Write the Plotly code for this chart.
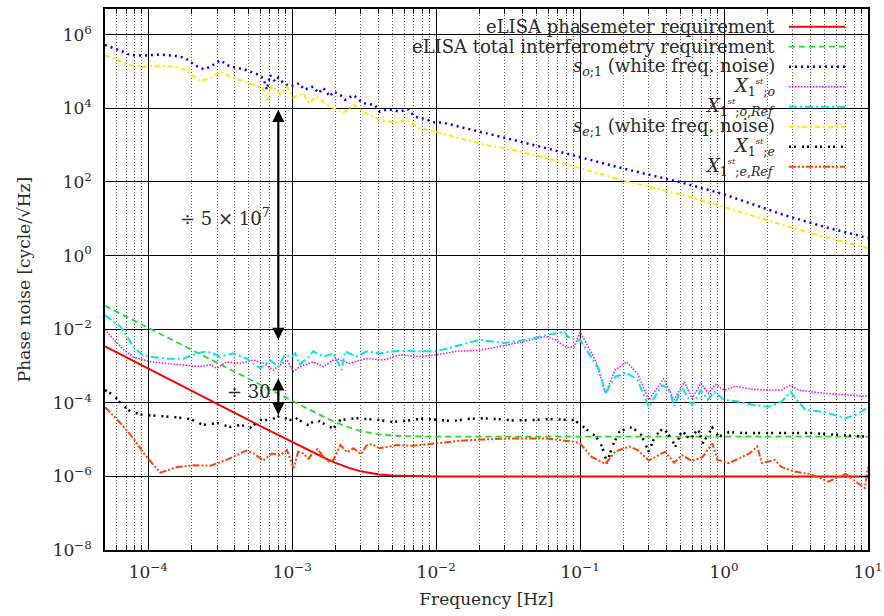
import math
import plotly.graph_objects as go

# ---------------- data ----------------
red_f = [5e-5, 7e-5, 1e-4, 1.5e-4, 2e-4, 3e-4, 5e-4, 7e-4, 1e-3, 1.2e-3, 1.5e-3, 1.75e-3, 2e-3,
         2.5e-3, 3e-3, 3.5e-3, 4e-3, 5e-3, 6e-3, 7e-3, 1e-2, 1e-1, 1, 10]
red_v = [3.4e-3, 1.72e-3, 8.4e-4, 3.74e-4, 2.1e-4, 9.35e-5, 3.36e-5, 1.72e-5, 8.5e-6, 5.93e-6, 3.9e-6,
         2.92e-6, 2.33e-6, 1.68e-6, 1.37e-6, 1.21e-6, 1.13e-6, 1.05e-6, 1.027e-6, 1.015e-6, 1.0e-6,
         1e-6, 1e-6, 1e-6]

green_f = [5e-5, 7e-5, 1e-4, 1.5e-4, 2e-4, 3e-4, 5e-4, 7e-4, 1e-3, 1.2e-3, 1.5e-3, 1.75e-3, 2e-3,
           2.5e-3, 3e-3, 3.5e-3, 4e-3, 5e-3, 6e-3, 7e-3, 1e-2, 1e-1, 1, 10]
green_v = [4.3e-2, 2.2e-2, 1.08e-2, 4.8e-3, 2.7e-3, 1.2e-3, 4.32e-4, 2.21e-4, 1.09e-4, 7.6e-5, 4.95e-5,
           3.72e-5, 2.95e-5, 2.1e-5, 1.7e-5, 1.49e-5, 1.38e-5, 1.28e-5, 1.24e-5, 1.22e-5, 1.2e-5,
           1.2e-5, 1.2e-5, 1.2e-5]

so_f = [5e-5, 5.6e-5, 6.25e-5, 6.8e-5, 7.45e-5, 9.1e-5, 1.21e-4, 1.63e-4, 1.81e-4, 2.12e-4, 2.42e-4,
        2.7e-4, 3.16e-4, 3.7e-4, 4.6e-4, 5.68e-4, 6.3e-4, 6.67e-4, 7.0e-4, 7.6e-4, 8.0e-4, 8.7e-4,
        9.7e-4, 1.12e-3, 1.21e-3, 1.4e-3, 1.52e-3, 1.64e-3, 1.83e-3, 1.93e-3, 2.16e-3, 2.33e-3,
        2.66e-3, 3.1e-3, 3.75e-3, 4.05e-3, 4.65e-3, 5.6e-3, 6.35e-3, 7.1e-3, 8.55e-3, 9.8e-3,
        1.11e-2, 1.38e-2, 2.0e-2, 3.4e-2, 5.8e-2, 0.11, 0.2, 0.49, 1.0, 2.55, 5.0, 10]
so_v = [5.3e5, 4.5e5, 3.9e5, 3.35e5, 2.8e5, 2.7e5, 2.9e5, 2.6e5, 2.3e5, 1.45e5, 1.16e5,
        1.35e5, 2.03e5, 1.35e5, 1.16e5, 8.5e4, 6.6e4, 3.2e4, 8.1e4, 5.3e4, 6.8e4, 4.8e4,
        3.9e4, 4.8e4, 3.2e4, 3.9e4, 2.6e4, 3.6e4, 2.1e4, 2.85e4, 2.3e4, 1.7e4,
        2.3e4, 1.38e4, 1.24e4, 8.1e3, 9.5e3, 8.1e3, 9.5e3, 5.9e3, 5.0e3, 4.1e3,
        4.1e3, 3.3e3, 2.3e3, 1.4e3, 830, 420, 230, 100, 46, 13, 6.0, 3.0]

se_f = [5e-5, 5.8e-5, 6.4e-5, 7.3e-5, 9.1e-5, 1.21e-4, 1.63e-4, 1.8e-4, 2.0e-4, 2.3e-4, 2.7e-4,
        3.16e-4, 3.9e-4, 4.6e-4, 5.4e-4, 6.3e-4, 6.67e-4, 7.2e-4, 8.2e-4, 9.2e-4, 1.02e-3, 1.19e-3,
        1.3e-3, 1.48e-3, 1.74e-3, 1.95e-3, 2.25e-3, 2.66e-3, 3.1e-3, 4.05e-3, 5.3e-3, 6.2e-3,
        7.6e-3, 1.0e-2, 1.38e-2, 2.0e-2, 3.4e-2, 5.8e-2, 0.11, 0.22, 0.5, 1.0, 2.55, 5.0, 10]
se_v = [2.7e5, 2.3e5, 1.85e5, 1.5e5, 1.35e5, 1.45e5, 1.3e5, 1.1e5, 8.1e4, 5.5e4, 6.6e4,
        1.0e5, 6.6e4, 5.5e4, 4.4e4, 3.5e4, 1.6e4, 4.2e4, 2.4e4, 3.9e4, 1.95e4, 2.6e4,
        1.38e4, 2.1e4, 1.24e4, 1.0e4, 7.4e3, 1.24e4, 8.1e3, 4.8e3, 4.1e3, 5.0e3,
        2.9e3, 2.3e3, 1.6e3, 1.1e3, 740, 450, 210, 100, 46, 21, 6.8, 3.2, 1.6]

xo_f = [5e-5, 5.77e-5, 6.8e-5, 7.9e-5, 1.04e-4, 1.35e-4, 1.76e-4, 2.3e-4, 2.7e-4, 3.0e-4, 3.5e-4,
        4.36e-4, 5.4e-4, 6.3e-4, 7.4e-4, 8.2e-4, 9.2e-4, 1.02e-3, 1.13e-3, 1.4e-3, 1.65e-3, 2.0e-3,
        2.5e-3, 3.3e-3, 4.3e-3, 5.6e-3, 7.6e-3, 1.0e-2, 1.38e-2, 2.0e-2, 3.0e-2, 4.5e-2, 5.8e-2,
        6.8e-2, 8.0e-2, 9.1e-2, 0.1, 0.11, 0.129, 0.15, 0.175, 0.21, 0.25, 0.30, 0.38, 0.45,
        0.53, 0.60, 0.69, 0.78, 0.87, 1.0, 1.2, 1.6, 2.5, 2.9, 3.3, 5.0, 9.8]
xo_v = [1.0e-2, 5.1e-3, 2.7e-3, 1.73e-3, 1.3e-3, 1.18e-3, 1.07e-3, 9.6e-4, 1.07e-3, 8.7e-4, 1.3e-3,
        1.18e-3, 1.45e-3, 1.18e-3, 7.8e-4, 1.07e-3, 1.45e-3, 7.1e-4, 9.6e-4, 1.3e-3, 9.6e-4, 1.6e-3,
        1.18e-3, 1.6e-3, 1.45e-3, 2.0e-3, 1.8e-3, 2.0e-3, 2.5e-3, 2.7e-3, 3.6e-3, 5.1e-3, 6.3e-3,
        5.1e-3, 3.2e-3, 3.3e-3, 8.3e-3, 4.2e-3, 1.3e-3, 1.8e-4, 7.8e-4, 1.28e-3, 6.3e-4, 1.2e-4,
        4.5e-4, 1.2e-4, 3.7e-4, 1.3e-4, 3.4e-4, 1.8e-4, 3.2e-4, 2.2e-4, 2.8e-4, 2.3e-4, 2.2e-4,
        3.0e-4, 2.2e-4, 1.8e-4, 1.5e-4]

xoref_f = [5e-5, 5.77e-5, 6.4e-5, 7.1e-5, 7.9e-5, 9.1e-5, 1.09e-4, 1.35e-4, 1.76e-4, 2.18e-4, 2.56e-4,
           3.16e-4, 3.9e-4, 4.8e-4, 6.0e-4, 7.0e-4, 8.0e-4, 8.9e-4, 9.9e-4, 1.05e-3, 1.12e-3,
           1.27e-3, 1.4e-3, 1.65e-3, 1.93e-3, 2.2e-3, 2.33e-3, 2.8e-3, 3.3e-3, 4.05e-3, 5.0e-3,
           6.2e-3, 7.6e-3, 1.0e-2, 1.3e-2, 2.0e-2, 3.0e-2, 4.2e-2, 5.8e-2, 6.8e-2, 7.8e-2, 8.2e-2,
           9.4e-2, 0.1, 0.12, 0.136, 0.15, 0.175, 0.21, 0.25, 0.30, 0.37, 0.41, 0.45, 0.51, 0.60,
           0.69, 0.77, 0.85, 1.0, 1.27, 1.6, 2.05, 2.5, 2.9, 3.2, 3.7, 4.8, 7.0, 8.2, 9.8]
xoref_v = [2.4e-2, 1.6e-2, 1.17e-2, 6.3e-3, 3.3e-3, 2.0e-3, 1.73e-3, 1.58e-3, 1.58e-3, 2.2e-3, 2.5e-3,
           1.8e-3, 2.2e-3, 1.6e-3, 8.7e-4, 1.45e-3, 9.6e-4, 2.0e-3, 1.8e-3, 2.2e-3, 1.1e-3,
           1.6e-3, 2.5e-3, 1.8e-3, 2.2e-3, 7.8e-4, 2.5e-3, 1.8e-3, 2.5e-3, 2.2e-3, 2.5e-3,
           2.6e-3, 2.5e-3, 2.5e-3, 3.3e-3, 5.1e-3, 4.2e-3, 5.1e-3, 6.9e-3, 7.9e-3, 8.5e-3, 6.3e-3,
           4.9e-3, 5.1e-3, 1.6e-3, 7.8e-4, 1.8e-4, 5.1e-4, 6.6e-4, 4.2e-4, 7.8e-5, 3.0e-4, 2.5e-4,
           8.2e-5, 2.6e-4, 8.7e-5, 2.2e-4, 1.2e-4, 2.0e-4, 1.2e-4, 1.07e-4, 8.7e-5, 7.8e-5,
           1.07e-4, 2.0e-4, 1.2e-4, 6.3e-5, 5.8e-5, 3.8e-5, 4.7e-5, 7.1e-5]

xe_f = [5e-5, 5.77e-5, 6.4e-5, 7.5e-5, 9.1e-5, 1.15e-4, 1.5e-4, 1.96e-4, 2.4e-4, 3.0e-4, 3.7e-4,
        4.36e-4, 5.1e-4, 6.0e-4, 7.0e-4, 8.2e-4, 9.7e-4, 1.02e-3, 1.27e-3, 1.48e-3, 1.93e-3,
        2.16e-3, 2.8e-3, 4.05e-3, 5e-3, 6.9e-3, 8e-3, 1.05e-2, 1.3e-2, 1.6e-2, 2e-2, 2.7e-2,
        3.5e-2, 4.7e-2, 6e-2, 8.9e-2, 0.094, 0.104, 0.129, 0.142, 0.154, 0.167, 0.187, 0.22,
        0.26, 0.30, 0.33, 0.38, 0.435, 0.46, 0.51, 0.58, 0.66, 0.71, 0.83, 0.92, 1.08, 1.41,
        2.4, 4.1, 7.0, 9.7]
xe_v = [2.2e-4, 1.6e-4, 9.8e-5, 5.8e-5, 4.7e-5, 4.4e-5, 4.1e-5, 3.6e-5, 2.5e-5, 2.8e-5, 2.2e-5,
        2.5e-5, 2.1e-5, 3.4e-5, 3.4e-5, 4.4e-5, 3.4e-5, 4.2e-5, 2.5e-5, 3.4e-5, 2.0e-5,
        3.4e-5, 3.8e-5, 3.4e-5, 3.0e-5, 3.4e-5, 3.7e-5, 3.4e-5, 3.2e-5, 3.6e-5, 3.8e-5, 3.6e-5,
        3.3e-5, 3.4e-5, 3.6e-5, 3.4e-5, 3.1e-5, 2.3e-5, 1.2e-5, 6.5e-6, 2.3e-6, 6.5e-6, 1.6e-5,
        2.2e-5, 1.6e-5, 4.7e-6, 1.2e-5, 2.1e-5, 9.8e-6, 6.5e-6, 1.8e-5, 9.8e-6, 2.0e-5, 7.9e-6,
        2.1e-5, 1.2e-5, 1.6e-5, 1.5e-5, 1.5e-5, 1.5e-5, 1.3e-5, 1.2e-5]

xeref_f = [5e-5, 5.2e-5, 6.4e-5, 7.9e-5, 9.3e-5, 1.06e-4, 1.21e-4, 1.59e-4, 2.07e-4, 2.7e-4, 3.5e-4,
           4.8e-4, 5.4e-4, 6.3e-4, 7.2e-4, 8.2e-4, 9.2e-4, 1.02e-3, 1.1e-3, 1.19e-3, 1.3e-3,
           1.4e-3, 1.5e-3, 1.65e-3, 1.8e-3, 1.93e-3, 2.16e-3, 2.4e-3, 2.66e-3, 3.0e-3, 3.3e-3,
           3.6e-3, 4.05e-3, 5.3e-3, 6.9e-3, 1.0e-2, 1.46e-2, 2.0e-2, 3.4e-2, 5.8e-2, 8.9e-2, 0.1,
           0.12, 0.15, 0.175, 0.22, 0.25, 0.30, 0.39, 0.45, 0.51, 0.60, 0.71, 0.83, 0.90, 1.08,
           1.33, 1.5, 1.7, 1.83, 2.26, 2.5, 3.0, 4.1, 5.3, 7.0, 8.2, 9.5, 10]
xeref_v = [7.5e-5, 6.6e-5, 2.8e-5, 1.07e-5, 4.2e-6, 2.3e-6, 1.26e-6, 1.8e-6, 2.0e-6, 1.95e-6, 2.8e-6,
           5.0e-6, 4.2e-6, 2.7e-6, 4.2e-6, 3.8e-6, 5.2e-6, 1.66e-6, 4.7e-6, 4.2e-6, 3.0e-6,
           4.7e-6, 5.5e-6, 3.4e-6, 2.5e-6, 2.8e-6, 7.1e-6, 4.5e-6, 5.8e-6, 4.0e-6, 7.1e-6,
           7.5e-6, 5.8e-6, 7.1e-6, 6.8e-6, 7.9e-6, 9.3e-6, 1.0e-5, 1.07e-5, 1.07e-5, 8.8e-6, 7.9e-6,
           3.4e-6, 2.2e-6, 4.7e-6, 6.5e-6, 5.2e-6, 2.7e-6, 4.7e-6, 2.35e-6, 3.8e-6, 2.6e-6, 3.4e-6,
           7.9e-6, 2.8e-6, 2.3e-6, 3.4e-6, 4.2e-6, 6.5e-6, 2.3e-6, 2.8e-6, 1.8e-6, 1.4e-6, 1.1e-6,
           7.2e-7, 1.17e-6, 7.2e-7, 4.8e-7, 1.8e-6]

x_tick_vals = [1e-4, 1e-3, 1e-2, 1e-1, 1, 10]
x_tick_text = ["10<sup>−4</sup>", "10<sup>−3</sup>", "10<sup>−2</sup>", "10<sup>−1</sup>",
               "10<sup>0</sup>", "10<sup>1</sup>"]
y_tick_vals = [1e-8, 1e-6, 1e-4, 1e-2, 1, 1e2, 1e4, 1e6]
y_tick_text = ["10<sup>−8</sup>", "10<sup>−6</sup>", "10<sup>−4</sup>", "10<sup>−2</sup>",
               "10<sup>0</sup>", "10<sup>2</sup>", "10<sup>4</sup>", "10<sup>6</sup>"]

ST = "<sup><span style='font-size:8px'><i>st</i></span></sup>"
legend_names = [
    "eLISA phasemeter requirement",
    "eLISA total interferometry requirement",
    "<i>s</i><sub><i>o</i>;1</sub> (white freq. noise)",
    "<i>X</i><sub>1</sub>" + ST + "<sub>;<i>o</i></sub>",
    "<i>X</i><sub>1</sub>" + ST + "<sub>;<i>o</i>,<i>Ref</i></sub>",
    "<i>s</i><sub><i>e</i>;1</sub> (white freq. noise)",
    "<i>X</i><sub>1</sub>" + ST + "<sub>;<i>e</i></sub>",
    "<i>X</i><sub>1</sub>" + ST + "<sub>;<i>e</i>,<i>Ref</i></sub>",
]

# ---------------- styles ----------------
FONT = "DejaVu Serif"
TXT = "#2a2a2a"
styles = [
    dict(color="#ff0000", width=2, dash="solid"),
    dict(color="#22dd22", width=1.8, dash="6px,4px"),
    dict(color="#0000ff", width=2.5, dash="2px,4px"),
    dict(color="#ff00ff", width=1.5, dash="1.5px,1.5px"),
    dict(color="#00e5ee", width=2, dash="8px,3px,2px,3px"),
    dict(color="#f2f200", width=2, dash="5px,3px,2px,3px"),
    dict(color="#000000", width=2.5, dash="2px,3px,2px,6px"),
    dict(color="#ff4500", width=2, dash="7px,2px,2px,2px,2px,2px"),
]
series = [(red_f, red_v), (green_f, green_v), (so_f, so_v), (xo_f, xo_v), (xoref_f, xoref_v),
          (se_f, se_v), (xe_f, xe_v), (xeref_f, xeref_v)]

fig = go.Figure()
for (f, v), st, nm in zip(series, styles, legend_names):
    fig.add_trace(go.Scatter(x=f, y=v, mode="lines", name=nm, showlegend=False,
                             line=dict(color=st["color"], width=st["width"], dash=st["dash"])))

# plot geometry (pixels)
L, R, T, B = 105, 868, 9, 550
W, H = 884, 616

def px2paper_x(px):
    return (px - L) / (R - L)

def px2paper_y(py):
    return 1 - (py - T) / (B - T)

minor_vals = [m * 10 ** e for e in range(-5, 1) for m in range(2, 10) if 5e-5 <= m * 10 ** e <= 10]

fig.update_layout(
    width=W, height=H,
    margin=dict(l=L, r=W - R, t=T, b=H - B, autoexpand=False),
    paper_bgcolor="white", plot_bgcolor="white",
    font=dict(family=FONT, size=17, color=TXT),
    xaxis=dict(type="log", range=[math.log10(5e-5), 1], tickmode="array",
               tickvals=x_tick_vals, ticktext=x_tick_text, automargin=False,
               showline=True, linecolor="black", linewidth=1.5, mirror="allticks",
               ticks="inside", ticklen=9, tickwidth=1, tickcolor="black",
               showgrid=True, gridcolor="black", gridwidth=1,
               minor=dict(tickvals=minor_vals, ticks="inside", ticklen=5, tickcolor="black",
                          showgrid=True, gridcolor="#555555", griddash="1px,2px", gridwidth=1),
               tickfont=dict(size=17, family=FONT, color=TXT),
               ticklabelstandoff=6,
               title=dict(text="Frequency [Hz]", font=dict(size=17, family=FONT, color=TXT),
                          standoff=12),
               zeroline=False),
    yaxis=dict(type="log", range=[-8, math.log10(5e6)], tickmode="array",
               tickvals=y_tick_vals, ticktext=y_tick_text, automargin=False,
               showline=True, linecolor="black", linewidth=1.5, mirror="allticks",
               ticks="inside", ticklen=9, tickwidth=1, tickcolor="black",
               showgrid=True, gridcolor="black", gridwidth=1,
               tickfont=dict(size=17, family=FONT, color=TXT),
               ticklabelstandoff=8,
               title=dict(text="Phase noise [cycle/√Hz]", font=dict(size=17, family=FONT, color=TXT),
                          standoff=18),
               zeroline=False),
)

# opaque key box (hides the grid, traces drawn on top)
fig.add_shape(type="rect", xref="paper", yref="paper",
              x0=px2paper_x(323), x1=px2paper_x(860), y0=px2paper_y(178), y1=1,
              fillcolor="white", line=dict(width=0), layer="between")

# key: right-aligned text + line sample on the right
row0, step = 26.7, 20.0
for i, (nm, st) in enumerate(zip(legend_names, styles)):
    py = row0 + i * step
    fig.add_annotation(xref="paper", yref="paper", x=px2paper_x(777), y=px2paper_y(py),
                       text=nm, showarrow=False, xanchor="right", yanchor="middle",
                       font=dict(size=18, family=FONT, color=TXT))
    fig.add_shape(type="line", xref="paper", yref="paper",
                  x0=px2paper_x(789), x1=px2paper_x(845), y0=px2paper_y(py), y1=px2paper_y(py),
                  line=dict(color=st["color"], width=st["width"], dash=st["dash"]))

# arrows and factor labels
arrow_x = math.log10(8e-4)
fig.add_annotation(x=arrow_x, y=-2.29, ax=arrow_x, ay=4.0, xref="x", yref="y", axref="x", ayref="y",
                   showarrow=True, arrowhead=2, arrowside="end+start", arrowwidth=2.2, arrowsize=1.1,
                   arrowcolor="black", text="")
fig.add_annotation(x=arrow_x, y=-4.33, ax=arrow_x, ay=-3.3, xref="x", yref="y", axref="x", ayref="y",
                   showarrow=True, arrowhead=2, arrowside="end+start", arrowwidth=2.2, arrowsize=1.1,
                   arrowcolor="black", text="")
fig.add_annotation(x=-3.465, y=1.05, xref="x", yref="y", text="÷ 5 × 10<sup>7</sup>",
                   showarrow=False, font=dict(size=18, family=FONT, color=TXT))
fig.add_annotation(x=-3.30, y=-3.68, xref="x", yref="y", text="÷ 30",
                   showarrow=False, font=dict(size=18, family=FONT, color=TXT))

fig.write_html("out.html", config={"displayModeBar": False},
               post_script="document.body.style.margin='0';")
